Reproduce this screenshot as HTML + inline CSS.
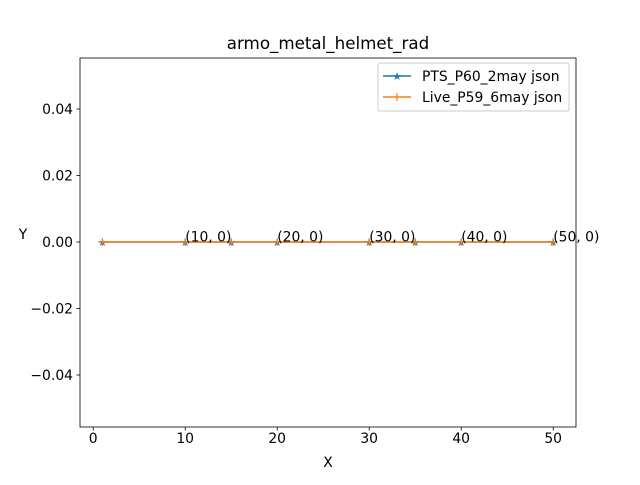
<!DOCTYPE html>
<html><head><meta charset="utf-8"><style>
body{margin:0;background:#fff;}
svg text{font-family:"DejaVu Sans","Liberation Sans",sans-serif;}
</style></head><body>
<svg id="c" width="640" height="480" xmlns="http://www.w3.org/2000/svg">
<rect width="640" height="480" fill="#fff"/>
<text x="328" y="49" font-size="16.7" text-anchor="middle">armo_metal_helmet_rad</text>
<g id="plot"></g>
<rect x="80" y="58" width="496" height="369" fill="none" stroke="#000" stroke-width="0.8"/>
<text x="328" y="467" font-size="13.9" text-anchor="middle">X</text>
<text x="23" y="239" font-size="13.9" text-anchor="middle">Y</text>
<g>
<rect x="378" y="63" width="191" height="48" rx="2" fill="#fff" fill-opacity="0.8" stroke="#ccc"/>
<g>
<line x1="383" y1="76" x2="411" y2="76" stroke="#1f77b4" stroke-width="1.5"/>
<text x="397" y="80" font-size="11" fill="#1f77b4" text-anchor="middle">★</text>
<text x="422" y="81" font-size="13.9">PTS_P60_2may json</text>
</g>
<g>
<line x1="383" y1="97" x2="411" y2="97" stroke="#ff7f0e" stroke-width="1.5"/>
<line x1="397" y1="93" x2="397" y2="101" stroke="#ff7f0e" stroke-width="1.2"/>
<text x="422" y="102" font-size="13.9">Live_P59_6may json</text>
</g>
</g>
</svg>
<script>
const xsPts=[1,10,15,20,30,35,40,50];
const ysPts=[0,0,0,0,0,0,0,0];
const xsLive=[1,10,15,20,30,35,40,50];
const ysLive=[0,0,0,0,0,0,0,0];
const annX=[10,20,30,40,50];
const annY=[0,0,0,0,0];
const xTicks=[0,10,20,30,40,50];
const yTicks=[-0.04,-0.02,0,0.02,0.04];
const yTickLabels=["−0.04","−0.02","0.00","0.02","0.04"];
const NS="http://www.w3.org/2000/svg";
function sx(v){return 93.2+v*9.2;}
function sy(v){return 242-v*3325;}
const g=document.getElementById('plot');
function mk(t,a){const e=document.createElementNS(NS,t);for(const k in a)e.setAttribute(k,a[k]);g.appendChild(e);return e;}
xTicks.forEach(t=>{
 const l=mk('line',{x1:sx(t),x2:sx(t),y1:427,y2:430.5,stroke:'#000','stroke-width':0.8});
 
 
 const tx=mk('text',{x:sx(t),y:443,'font-size':13.9,'text-anchor':'middle'});tx.textContent=t;
 
 
});
yTicks.forEach((t,i)=>{
 const l=mk('line',{x1:76.5,x2:80,y1:sy(t),y2:sy(t),stroke:'#000','stroke-width':0.8});
 
 
 const tx=mk('text',{x:73,y:sy(t)+5,'font-size':13.9,'text-anchor':'end'});tx.textContent=yTickLabels[i];
 
 
});
function series(xs,ys,color,name){
 const p=mk('polyline',{points:xs.map((x,i)=>sx(x)+','+sy(ys[i])).join(' '),fill:'none',stroke:color,'stroke-width':1.5});
 
 
}
series(xsPts,ysPts,'#1f77b4','pts');
xsPts.forEach((x,i)=>{
 const t=mk('text',{x:sx(x),y:sy(ysPts[i])+4,'font-size':11,fill:'#1f77b4','text-anchor':'middle'});t.textContent='★';
 
 
});
series(xsLive,ysLive,'#ff7f0e','live');
xsLive.forEach((x,i)=>{
 const l=mk('line',{x1:sx(x),x2:sx(x),y1:sy(ysLive[i])-4,y2:sy(ysLive[i])+4,stroke:'#ff7f0e','stroke-width':1.2});
 
 
 const h=mk('line',{x1:sx(x)-4,x2:sx(x)+4,y1:sy(ysLive[i]),y2:sy(ysLive[i]),stroke:'#ff7f0e','stroke-width':1.2});
 
 
});
annX.forEach((x,i)=>{
 const t=mk('text',{x:sx(x),y:sy(annY[i])-0.5,'font-size':13.9});t.textContent='('+x+', '+annY[i]+')';
 
 
});
</script>
</body></html>
